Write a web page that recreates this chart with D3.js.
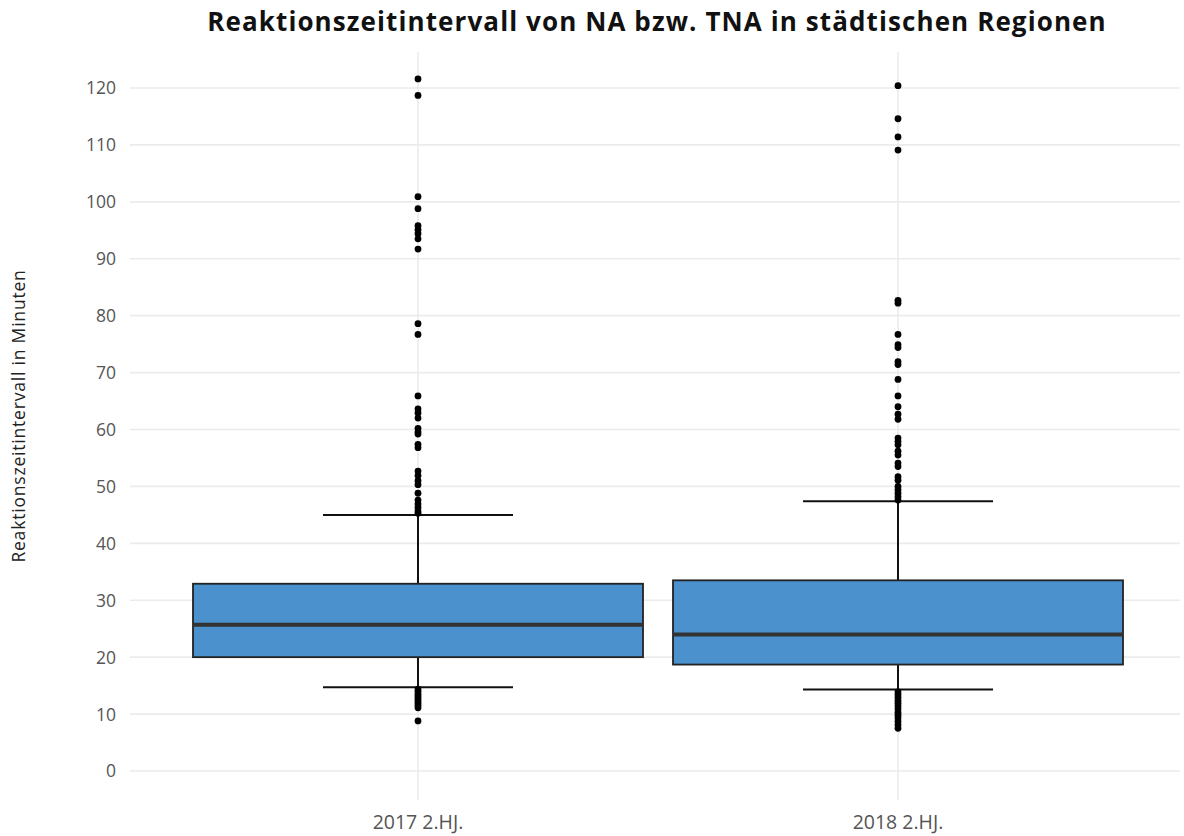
<!DOCTYPE html>
<html><head><meta charset="utf-8">
<script src="https://cdn.jsdelivr.net/npm/d3@7"></script>
<style>body{margin:0;background:#fff}svg{display:block}</style>
</head><body>
<svg id="chart" width="1184" height="836"></svg>
<script>
const categories = ["2017 2.HJ.", "2018 2.HJ."];
const q1 = [20.0, 18.7];
const medians = [25.7, 24.0];
const q3 = [32.9, 33.5];
const whiskerLow = [14.7, 14.3];
const whiskerHigh = [45.0, 47.4];
const outliers2017 = [121.6, 118.7, 100.9, 98.8, 95.8, 95.1, 94.4, 93.5, 91.7, 78.6, 76.7,
  65.9, 63.6, 62.9, 62.0, 60.2, 59.6, 59.2, 57.4, 56.8, 52.7, 51.9, 51.0, 50.3, 48.8, 47.6, 46.9, 46.3, 45.7, 45.3,
  14.4, 14.0, 13.5, 13.1, 12.7, 12.3, 11.9, 11.5, 11.1, 8.8];
const outliers2018 = [120.4, 114.6, 111.4, 109.1, 82.7, 82.2, 76.7, 74.9, 74.4, 71.9, 71.4, 68.8, 65.9,
  64.0, 62.7, 61.8, 58.5, 57.9, 57.3, 56.2, 55.5, 54.1, 53.5, 51.7, 51.1, 50.0, 49.4, 48.8, 48.2, 47.6,
  13.9, 13.4, 12.9, 12.4, 11.9, 11.4, 10.9, 10.3, 9.8, 9.3, 8.7, 8.1, 7.5];
const outliers = [outliers2017, outliers2018];
const yTicks = [0, 10, 20, 30, 40, 50, 60, 70, 80, 90, 100, 110, 120];
const titleText = "Reaktionszeitintervall von NA bzw. TNA in städtischen Regionen";
const yTitle = "Reaktionszeitintervall in Minuten";

const svg = d3.select("#chart");
const font = "'Open Sans', 'Noto Sans', sans-serif";
const panel = {left: 130, right: 1180, top: 52, bottom: 800};

const x = d3.scaleBand().domain(categories).range([178, 1138]).padding(0);
const y = d3.scaleLinear().domain([0, 120]).range([771, 88]);

// grid
const g = svg.append("g");
g.selectAll("line.hg").data(yTicks).join("line")
  .attr("x1", panel.left).attr("x2", panel.right)
  .attr("y1", d => y(d)).attr("y2", d => y(d))
  .attr("stroke", "#ebebeb").attr("stroke-width", 1.6);
g.selectAll("line.vg").data(categories).join("line")
  .attr("x1", d => x(d) + x.bandwidth()/2).attr("x2", d => x(d) + x.bandwidth()/2)
  .attr("y1", panel.top).attr("y2", panel.bottom)
  .attr("stroke", "#ebebeb").attr("stroke-width", 1.6);

// y axis labels
const yAxis = d3.axisLeft(y).tickValues(yTicks).tickSize(0).tickPadding(0);
const ya = svg.append("g").attr("transform", "translate(116,0)").call(yAxis);
ya.select(".domain").remove();
ya.selectAll("text").attr("font-family", font).attr("font-size", 17.5).attr("fill", "#555").attr("dy", "0.34em");

// x axis labels
const xAxis = d3.axisBottom(x).tickSize(0).tickPadding(0);
const xa = svg.append("g").attr("transform", "translate(0,829)").call(xAxis);
xa.select(".domain").remove();
xa.selectAll("text").attr("font-family", font).attr("font-size", 19.5).attr("fill", "#555").attr("dy", "0");

// boxes
const boxW = 450, capW = 190;
categories.forEach((c, i) => {
  const cx = x(c) + x.bandwidth()/2;
  const bg = svg.append("g");
  bg.append("line").attr("x1", cx).attr("x2", cx).attr("y1", y(q3[i])).attr("y2", y(whiskerHigh[i]))
    .attr("stroke", "#111").attr("stroke-width", 2);
  bg.append("line").attr("x1", cx).attr("x2", cx).attr("y1", y(q1[i])).attr("y2", y(whiskerLow[i]))
    .attr("stroke", "#111").attr("stroke-width", 2);
  [whiskerHigh[i], whiskerLow[i]].forEach(v => {
    bg.append("line").attr("x1", cx - capW/2).attr("x2", cx + capW/2).attr("y1", y(v)).attr("y2", y(v))
      .attr("stroke", "#111").attr("stroke-width", 2);
  });
  bg.append("rect").attr("x", cx - boxW/2).attr("width", boxW)
    .attr("y", y(q3[i])).attr("height", y(q1[i]) - y(q3[i]))
    .attr("fill", "#4b91cd").attr("stroke", "#222").attr("stroke-width", 1.8);
  bg.append("line").attr("x1", cx - boxW/2).attr("x2", cx + boxW/2).attr("y1", y(medians[i])).attr("y2", y(medians[i]))
    .attr("stroke", "#333").attr("stroke-width", 4);
  bg.selectAll("circle").data(outliers[i]).join("circle")
    .attr("cx", cx).attr("cy", d => y(d)).attr("r", 3.4).attr("fill", "#000");
});

// title
svg.append("text").attr("x", 657).attr("y", 31).attr("text-anchor", "middle")
  .attr("font-family", font).attr("font-weight", "bold").attr("font-size", 26)
  .attr("letter-spacing", 1.1).attr("fill", "#111")
  .text(titleText);

svg.append("text").attr("transform", "translate(25,416) rotate(-90)").attr("text-anchor", "middle")
  .attr("font-family", font).attr("font-size", 17.5).attr("letter-spacing", 0.8).attr("fill", "#222")
  .text(yTitle);
</script>
</body></html>
